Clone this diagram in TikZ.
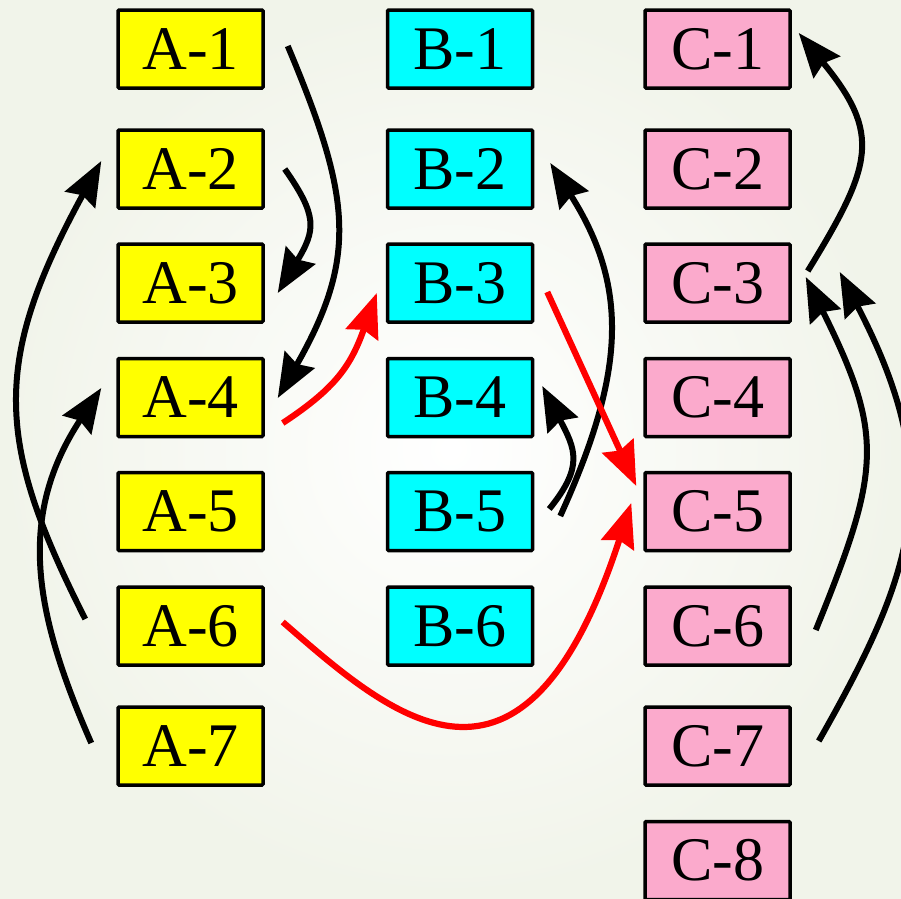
\documentclass[tikz,border=0pt]{standalone}
\usepackage{fontspec}
\setmainfont{Liberation Serif}
\usetikzlibrary{arrows.meta}
\definecolor{boxyellow}{RGB}{255,255,0}
\definecolor{boxcyan}{RGB}{0,255,255}
\definecolor{boxpink}{RGB}{251,170,204}
\definecolor{bgouter}{RGB}{241,244,234}
\tikzset{
  cell/.style={draw=black, line width=3.5pt, rounded corners=1pt, minimum width=145pt, minimum height=78pt, inner sep=0pt, font=\fontsize{62}{62}\selectfont},
  acell/.style={cell, fill=boxyellow},
  bcell/.style={cell, fill=boxcyan},
  ccell/.style={cell, fill=boxpink},
  blk/.style={draw=black, line width=6pt, -{Stealth[length=44pt, width=34pt, inset=5pt]}},
  rd/.style={draw=red, line width=6.2pt, -{Stealth[length=44pt, width=34pt, inset=5pt]}}
}
\begin{document}
\begin{tikzpicture}[x=1pt, y=-1pt]
\useasboundingbox (0,0) rectangle (901,898);
\shade[inner color=white, outer color=bgouter] (0,0) rectangle (901,898);
\clip (0,0) rectangle (901,898);
% column A
\node[acell] (a1) at (190.5,49) {A-1};
\node[acell] (a2) at (190.5,169) {A-2};
\node[acell] (a3) at (190.5,283) {A-3};
\node[acell] (a4) at (190.5,397.5) {A-4};
\node[acell] (a5) at (190.5,511.5) {A-5};
\node[acell] (a6) at (190.5,626) {A-6};
\node[acell] (a7) at (190.5,746) {A-7};
% column B
\node[bcell] (b1) at (460,49) {B-1};
\node[bcell] (b2) at (460,169) {B-2};
\node[bcell] (b3) at (460,283) {B-3};
\node[bcell] (b4) at (460,397.5) {B-4};
\node[bcell] (b5) at (460,511.5) {B-5};
\node[bcell] (b6) at (460,626) {B-6};
% column C
\node[ccell] (c1) at (717.5,49) {C-1};
\node[ccell] (c2) at (717.5,169) {C-2};
\node[ccell] (c3) at (717.5,283) {C-3};
\node[ccell] (c4) at (717.5,397.5) {C-4};
\node[ccell] (c5) at (717.5,511.5) {C-5};
\node[ccell] (c6) at (717.5,626) {C-6};
\node[ccell] (c7) at (717.5,746) {C-7};
\node[ccell] (c8) at (717.5,860.5) {C-8};
% black connectors
\draw[blk] ([shift={(23,-3)}]a1.east) .. controls +(63,150) and +(81,-142) .. ([shift={(13,0.5)}]a4.east);
\draw[blk] ([shift={(20,0)}]a2.east) .. controls +(33,47) and +(38,-63) .. ([shift={(13,10)}]a3.east);
\draw[blk] ([shift={(-31,-7)}]a6.west) .. controls +(-89,-176) and +(-111,203) .. ([shift={(-15,-8)}]a2.west);
\draw[blk] ([shift={(-25,-3)}]a7.west) .. controls +(-57,-130) and +(-85,129) .. ([shift={(-15,-9.5)}]a4.west);
\draw[blk] ([shift={(26,4.5)}]b5.east) .. controls +(63,-139) and +(81,127) .. ([shift={(16,-6)}]b2.east);
\draw[blk] ([shift={(15,-2.5)}]b5.east) .. controls +(35,-43) and +(33,63) .. ([shift={(8,-11.5)}]b4.east);
\draw[blk] ([shift={(16,-12)}]c3.east) .. controls +(65,-106) and +(83,101) .. ([shift={(7,-16)}]c1.east);
\draw[blk] ([shift={(24,4)}]c6.east) .. controls +(65,-160) and +(79,159) .. ([shift={(14,-6)}]c3.east);
\draw[blk] ([shift={(27,-5)}]c7.east) .. controls +(99,-174) and +(106,204) .. ([shift={(48,-11)}]c3.east);
% red connectors
\draw[rd] ([shift={(18,25.5)}]a4.east) .. controls +(53,-35) and +(-26,73) .. ([shift={(-9,10)}]b3.west);
\draw[rd] ([shift={(13,9)}]b3.east) -- ([shift={(-7,-25.5)}]c5.west);
\draw[rd] ([shift={(18,-4)}]a6.east) .. controls +(108,94) and +(-108,332) .. ([shift={(-12,-8.5)}]c5.west);
\end{tikzpicture}
\end{document}
